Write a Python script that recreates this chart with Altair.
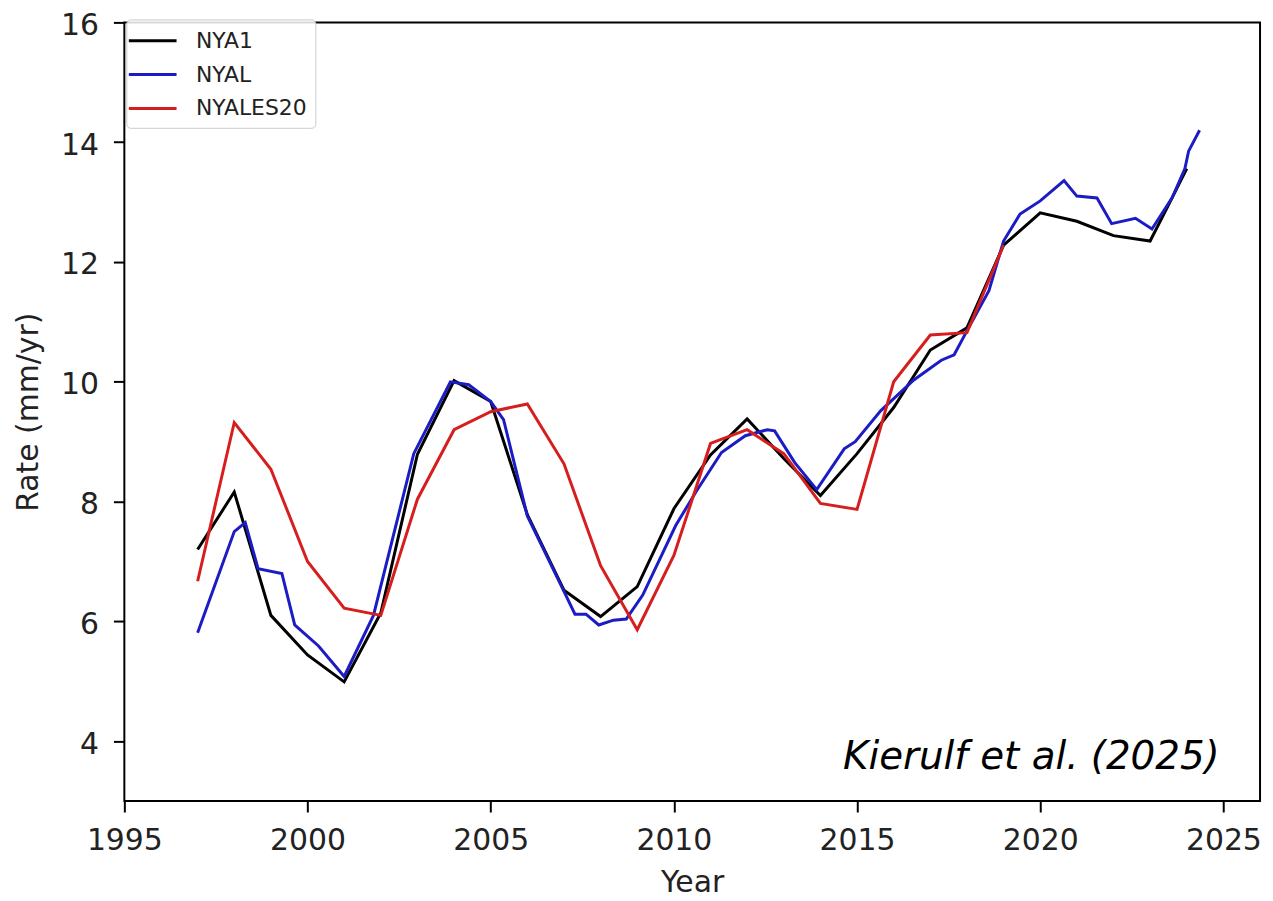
import altair as alt
import pandas as pd

# ---- data ----
nya1_year = [1997, 1998, 1999, 2000, 2001, 2002, 2003, 2004, 2005, 2006, 2007, 2008, 2009,
             2010, 2011, 2012, 2013, 2014, 2015, 2016, 2017, 2018, 2019, 2020, 2021, 2022,
             2023, 2023.5, 2024]
nya1_rate = [7.20, 8.16, 6.10, 5.44, 4.99, 6.14, 8.79, 10.02, 9.67, 7.78, 6.52, 6.08, 6.58,
             7.88, 8.78, 9.38, 8.72, 8.10, 8.80, 9.57, 10.53, 10.90, 12.28, 12.82, 12.68, 12.44,
             12.35, 12.95, 13.56]

nyal_year = [1997.0, 1998.0, 1998.3, 1998.65, 1999.3, 1999.65, 2000.3, 2001.0, 2001.8, 2002.9,
             2003.9, 2004.4, 2005.0, 2005.35, 2006.0, 2007.0, 2007.3, 2007.6, 2007.95, 2008.35,
             2008.7, 2009.15, 2010.05, 2010.6, 2011.3, 2011.95, 2012.55, 2012.75, 2013.3, 2013.9,
             2014.65, 2014.95, 2015.65, 2016.55, 2017.3, 2017.65, 2018.0, 2018.6, 2019.0, 2019.45,
             2020.0, 2020.65, 2021.0, 2021.55, 2021.95, 2022.6, 2023.05, 2023.6, 2023.95, 2024.05,
             2024.35]
nyal_rate = [5.81, 7.50, 7.65, 6.88, 6.80, 5.94, 5.59, 5.08, 6.10, 8.80,
             10.00, 9.95, 9.67, 9.37, 7.76, 6.50, 6.12, 6.12, 5.94, 6.02,
             6.04, 6.44, 7.60, 8.16, 8.82, 9.10, 9.20, 9.18, 8.65, 8.20,
             8.88, 9.00, 9.52, 10.03, 10.36, 10.45, 10.85, 11.52, 12.35, 12.80,
             13.02, 13.36, 13.10, 13.07, 12.64, 12.73, 12.55, 13.07, 13.56, 13.85,
             14.20]

nyales20_year = [1997, 1998, 1999, 2000, 2001, 2002, 2003, 2004, 2005, 2006, 2007, 2008, 2009,
                 2010, 2011, 2012, 2013, 2014, 2015, 2016, 2017, 2018, 2019]
nyales20_rate = [6.67, 9.32, 8.54, 7.00, 6.22, 6.10, 8.04, 9.20, 9.50, 9.63, 8.63, 6.93, 5.86,
                 7.10, 8.97, 9.20, 8.80, 7.97, 7.87, 10.00, 10.78, 10.82, 12.28]

series_names = ["NYA1", "NYAL", "NYALES20"]
series_colors = ["#000000", "#1c1cc4", "#d61e1e"]

x_ticks = [1995, 2000, 2005, 2010, 2015, 2020, 2025]
y_ticks = [4, 6, 8, 10, 12, 14, 16]

annotation_text = ["Kierulf et al. (2025)"]
annotation_x = [2024.9]
annotation_y = [3.54]

# ---- build table ----
rows = []
for name, ys, vs in [("NYA1", nya1_year, nya1_rate),
                     ("NYAL", nyal_year, nyal_rate),
                     ("NYALES20", nyales20_year, nyales20_rate)]:
    for y, v in zip(ys, vs):
        rows.append({"series": name, "year": y, "rate": v})
df = pd.DataFrame(rows)

ann = pd.DataFrame({"year": annotation_x, "rate": annotation_y, "label": annotation_text})

x_scale = alt.Scale(domain=[1995, 2026], nice=False, zero=False)
y_scale = alt.Scale(domain=[3, 16], nice=False, zero=False)

lines = alt.Chart(df).mark_line(strokeWidth=3, clip=True).encode(
    x=alt.X("year:Q", scale=x_scale,
            axis=alt.Axis(values=x_ticks, format="d", title="Year", labelPadding=14,
                          titlePadding=12, labelFlush=False)),
    y=alt.Y("rate:Q", scale=y_scale,
            axis=alt.Axis(values=y_ticks, format="d", title="Rate (mm/yr)", labelPadding=15,
                          titlePadding=17, labelOffset=3)),
    color=alt.Color("series:N",
                    scale=alt.Scale(domain=series_names, range=series_colors),
                    legend=alt.Legend(title=None, orient="none", legendX=2, legendY=-3,
                                      symbolType="M-2,0H2", symbolSize=576, symbolOffset=5,
                                      symbolStrokeWidth=3, labelFont="DejaVu Sans",
                                      labelFontSize=22, labelColor="#222222",
                                      labelOffset=30, rowPadding=9, padding=8,
                                      strokeColor="#cccccc", fillColor="rgba(255,255,255,0.85)",
                                      cornerRadius=4)),
)

text = alt.Chart(ann).mark_text(align="right", baseline="alphabetic", font="DejaVu Sans",
                                fontStyle="italic", fontSize=39, color="#000000").encode(
    x=alt.X("year:Q", scale=x_scale),
    y=alt.Y("rate:Q", scale=y_scale),
    text="label:N",
)

chart = (lines + text).properties(
    width=1142, height=783,
    autosize=alt.AutoSizeParams(type="none"),
    padding={"left": 117, "top": 12, "right": 5, "bottom": 95},
).configure_view(
    stroke="#000000", strokeWidth=2,
).configure_axis(
    domain=False, grid=False,
    tickColor="#000000", tickWidth=2, tickSize=11,
    labelFont="DejaVu Sans", labelFontSize=30, labelColor="#222222",
    titleFont="DejaVu Sans", titleFontSize=30, titleFontWeight="normal", titleColor="#222222",
)

chart.save("out.html", embed_options={"renderer": "svg", "actions": False})
